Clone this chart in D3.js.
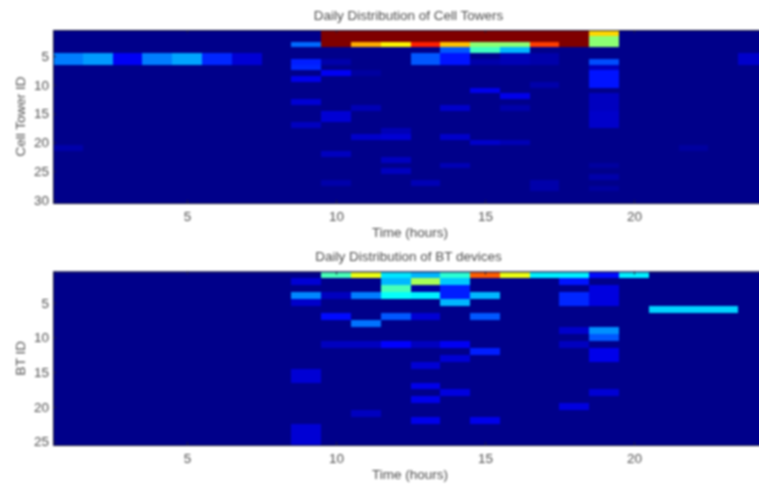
<!DOCTYPE html>
<html>
<head>
<meta charset="utf-8">
<script src="https://d3js.org/d3.v7.min.js"></script>
<style>
  html, body { margin: 0; padding: 0; background: #fff; overflow: hidden; }
  text { font-family: "Liberation Sans", Arial, sans-serif; fill: #4c4c4c; }
</style>
</head>
<body>
<div id="chart"></div>
<script>
// Values as [hour, id, level], level 0..1 on the jet ramp
const towerCells = [
  [1,5,.24],[1,6,.24],[2,5,.27],[2,6,.27],[3,5,.1],[3,6,.1],[4,5,.24],[4,6,.24],
  [5,5,.28],[5,6,.28],[6,5,.15],[6,6,.15],[7,5,.07],[7,6,.07],[1,21,.03],
  [9,3,.22],[9,6,.14],[9,7,.15],[9,9,.09],[9,13,.07],[9,17,.05],
  [10,1,1],[10,2,1],[10,3,1],[10,6,.03],[10,8,.1],[10,15,.07],[10,16,.07],[10,22,.05],[10,27,.03],
  [11,1,1],[11,2,1],[11,3,.72],[11,8,.02],[11,14,.04],[11,19,.06],
  [12,1,1],[12,2,1],[12,3,.65],[12,18,.04],[12,19,.07],[12,23,.05],[12,25,.05],
  [13,1,1],[13,2,1],[13,3,.86],[13,5,.2],[13,6,.2],[13,27,.04],
  [14,1,1],[14,2,1],[14,3,.7],[14,4,.2],[14,5,.13],[14,6,.13],[14,14,.06],[14,19,.06],[14,24,.04],
  [15,1,1],[15,2,1],[15,3,.52],[15,4,.44],[15,6,.03],[15,11,.09],[15,20,.06],
  [16,1,1],[16,2,1],[16,3,.52],[16,4,.3],[16,5,.04],[16,6,.04],[16,12,.09],[16,14,.03],[16,20,.04],
  [17,1,1],[17,2,1],[17,3,.83],[17,5,.03],[17,6,.03],[17,10,.03],[17,27,.03],[17,28,.03],
  [18,1,1],[18,2,1],[18,3,1],
  [19,1,.68],[19,2,.52],[19,3,.52],[19,6,.19],[19,7,.05],[19,8,.13],[19,9,.13],[19,10,.13],
  [19,12,.05],[19,13,.05],[19,14,.05],[19,15,.06],[19,16,.06],[19,17,.06],[19,24,.02],[19,26,.03],[19,28,.02],
  [22,21,.02],[24,5,.06],[24,6,.06]
];
const btCells = [
  [9,2,.07],[9,4,.25],[9,5,.06],[9,15,.07],[9,16,.07],[9,23,.07],[9,24,.07],[9,25,.07],
  [10,1,.45],[10,4,.05],[10,7,.12],[10,11,.05],
  [11,1,.62],[11,4,.24],[11,8,.23],[11,11,.05],[11,21,.05],
  [12,1,.35],[12,2,.3],[12,3,.45],[12,4,.38],[12,7,.2],[12,11,.11],
  [13,1,.3],[13,2,.55],[13,3,.02],[13,4,.36],[13,7,.07],[13,11,.05],[13,14,.07],[13,17,.09],[13,19,.09],[13,22,.09],
  [14,1,.42],[14,2,.32],[14,3,.14],[14,4,.14],[14,5,.3],[14,11,.1],[14,13,.07],[14,18,.08],
  [15,1,.8],[15,4,.3],[15,7,.2],[15,12,.14],[15,22,.09],
  [16,1,.62],[17,1,.36],
  [18,1,.36],[18,2,.13],[18,4,.15],[18,5,.15],[18,9,.06],[18,11,.05],[18,20,.08],
  [19,1,.12],[19,3,.08],[19,4,.08],[19,5,.08],[19,9,.26],[19,10,.2],[19,12,.09],[19,13,.09],[19,18,.07],
  [20,1,.36],[21,6,.33],[22,6,.33],[23,6,.33]
];
const hourTicks = [5, 10, 15, 20];
const towerTicks = [5, 10, 15, 20, 25, 30];
const btTicks = [5, 10, 15, 20, 25];
const jetStops = [0, .11, .375, .64, .89, 1];
const jetColors = ['#00008a', '#0000ff', '#00ffff', '#ffff00', '#ff0000', '#7f0000'];

const width = 759, height = 484;
const margin = { left: 53, right: -9 }; // the last hour runs off the right edge of the picture
const fontSize = '13.5px';

const jet = d3.scaleLinear().domain(jetStops).range(jetColors).clamp(true);

const svg = d3.select('#chart').append('svg')
    .attr('width', width)
    .attr('height', height)
    .style('display', 'block');

// The whole reference is a soft upscaled bitmap
const root = svg.append('g').style('filter', 'blur(1.1px)');

function drawHeatmap(cells, rows, top, bottom, yTicks, title, yLabel, titleY, xLabelY) {
    const x = d3.scaleLinear().domain([0.5, 24.5]).range([margin.left, width - margin.right]);
    const y = d3.scaleLinear().domain([0.5, rows + 0.5]).range([top, bottom]);
    const g = root.append('g');

    g.append('rect')
        .attr('x', x(0.5))
        .attr('y', y(0.5))
        .attr('width', x(24.5) - x(0.5))
        .attr('height', y(rows + 0.5) - y(0.5))
        .attr('fill', jet(0));

    // crispEdges keeps seams from showing between neighbouring cells
    g.append('g')
        .attr('shape-rendering', 'crispEdges')
        .selectAll('rect')
        .data(cells)
        .enter()
        .append('rect')
        .attr('x', d => x(d[0] - 0.5))
        .attr('y', d => y(d[1] - 0.5))
        .attr('width', x(1.5) - x(0.5))
        .attr('height', y(1.5) - y(0.5))
        .attr('fill', d => jet(d[2]));

    // MATLAB style box, ticks point inwards
    const xAxis = g.append('g')
        .attr('transform', `translate(0,${bottom})`)
        .call(d3.axisBottom(x).tickValues(hourTicks).tickSize(-3).tickPadding(8));
    const xAxisTop = g.append('g')
        .attr('transform', `translate(0,${top})`)
        .call(d3.axisTop(x).tickValues(hourTicks).tickSize(-3).tickFormat(''));
    const yAxis = g.append('g')
        .attr('transform', `translate(${margin.left},0)`)
        .call(d3.axisLeft(y).tickValues(yTicks).tickSize(-3).tickPadding(4));

    [xAxis, xAxisTop, yAxis].forEach(a => {
        a.selectAll('path, line').attr('stroke', '#1c1c3c').attr('stroke-width', 1);
        a.selectAll('text').style('font-size', fontSize);
    });

    g.append('text')
        .attr('x', 408.5)
        .attr('y', titleY)
        .attr('text-anchor', 'middle')
        .style('font-size', fontSize)
        .text(title);

    g.append('text')
        .attr('x', 410)
        .attr('y', xLabelY)
        .attr('text-anchor', 'middle')
        .style('font-size', fontSize)
        .text('Time (hours)');

    g.append('text')
        .attr('transform', `translate(25,${(top + bottom) / 2}) rotate(-90)`)
        .attr('text-anchor', 'middle')
        .style('font-size', fontSize)
        .text(yLabel);
}

drawHeatmap(towerCells, 30, 30, 203, towerTicks, 'Daily Distribution of Cell Towers', 'Cell Tower ID', 20, 237);
drawHeatmap(btCells, 25, 271.5, 445, btTicks, 'Daily Distribution of BT devices', 'BT ID', 261, 479);
</script>
</body>
</html>
